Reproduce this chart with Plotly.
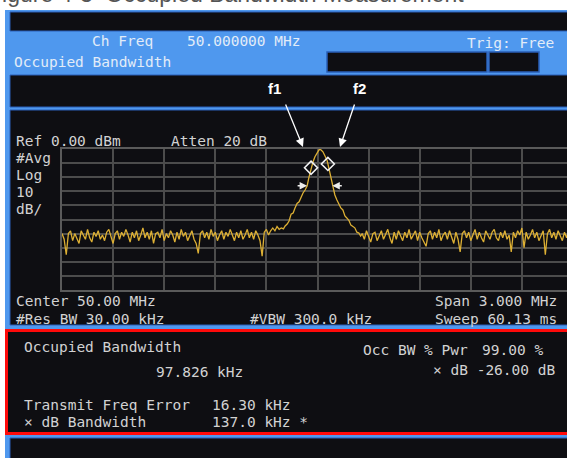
import numpy as np
import plotly.graph_objects as go

W, H = 567, 458

# ---------------- instrument settings / readouts ----------------
center_mhz = 50.0
span_mhz = 3.0
ref_dbm = 0.0
db_per_div = 10
start_mhz = center_mhz - span_mhz / 2

ch_freq = "50.000000 MHz"
occ_bw_khz = "97.826 kHz"
occ_pwr = "99.00 %"
xdb_setting = "-26.00 dB"
freq_error = "16.30 kHz"
xdb_bw = "137.0 kHz *"

# ---------------- trace values (dBm) ----------------
noise_step = 0.0125
noise_left_start = 48.5
noise_left_dbm = [
    -60, -64, -75, -60, -58, -65, -60, -63, -67, -58,
    -61, -64, -57, -63, -66, -59, -62, -58, -64, -61,
    -65, -59, -57, -63, -67, -60, -58, -64, -59, -62,
    -57, -61, -66, -59, -63, -58, -65, -61, -56, -63,
    -59, -64, -58, -67, -60, -59, -63, -57, -65, -60,
    -63, -58, -61, -66, -59, -64, -57, -62, -59, -65,
    -61, -58, -64, -67, -74, -60, -58, -63, -59, -64,
    -57, -62, -59, -65, -61, -58, -64, -59, -62, -57,
    -61, -65, -59, -63, -58, -64, -61, -57, -63, -59,
    -64, -58, -61, -65, -76, -59, -57, -61, -58, -56,
    -58, -55, -57, -56,
]
skirt_mhz = [
    49.800, 49.810, 49.822, 49.833, 49.845, 49.857, 49.868, 49.880, 49.892, 49.904,
    49.915, 49.927, 49.939, 49.950, 49.962, 49.974, 49.985, 49.997, 50.009, 50.015,
    50.020, 50.032, 50.044, 50.056, 50.061, 50.067, 50.079, 50.090, 50.102, 50.114,
    50.126, 50.137, 50.149, 50.161, 50.172, 50.184, 50.196, 50.208, 50.219, 50.231,
    50.243, 50.253,
]
skirt_dbm = [
    -56.7, -54.6, -53.2, -51.1, -46.2, -45.4, -41.8, -38.6, -37.4, -34.0,
    -31.2, -29.1, -26.2, -20.0, -13.3, -9.0, -5.5, -2.5, -0.6, -0.3,
    -0.5, -2.0, -4.5, -8.0, -10.6, -14.2, -21.3, -27.7, -32.6, -36.2,
    -39.0, -41.8, -43.2, -47.5, -48.9, -50.6, -54.0, -55.3, -55.9, -59.0,
    -59.6, -61.7,
]
noise_right_start = 50.2625
noise_right_dbm = [
    -60, -64, -58, -62, -66, -60, -59, -65, -62, -58,
    -64, -61, -57, -63, -67, -59, -64, -58, -61, -65,
    -59, -63, -57, -64, -61, -58, -65, -59, -63, -66,
    -69, -60, -58, -64, -59, -63, -57, -65, -61, -59,
    -64, -58, -63, -67, -59, -64, -73, -60, -58, -63,
    -59, -65, -61, -57, -64, -59, -63, -66, -58, -61,
    -64, -59, -57, -63, -65, -59, -63, -58, -64, -61,
    -73, -59, -63, -58, -61, -56, -70, -59, -64, -61,
    -57, -63, -59, -65, -61, -58, -75, -60, -57, -63,
    -59, -64, -58, -61, -65, -59, -63, -57, -61, -60,
]
occ_markers_mhz = [49.962, 50.061]
occ_markers_dbm = [-13.3, -10.6]
xdb_markers_mhz = [49.939, 50.087]
xdb_markers_dbm = [-26.0, -26.0]

left_f = [noise_left_start + i * noise_step for i in range(len(noise_left_dbm))]
right_f = [noise_right_start + i * noise_step for i in range(len(noise_right_dbm))]
freqs = left_f + skirt_mhz + right_f
levels = noise_left_dbm + skirt_dbm + noise_right_dbm

# ---------------- styling helpers ----------------
MONO = "DejaVu Sans Mono"
TXT = "#d2d2d2"
HDR_TXT = "#e2ecf8"
BLACK = "#0e0e12"
BLUE = "#4f98ee"
DKBLUE = "#2a5fb8"


def px(x):
    return x / W


def py(y):
    return 1 - y / H


def rect(x0, y0, x1, y1, fill, lc=None, lw=0):
    return dict(type="rect", xref="paper", yref="paper",
                x0=px(x0), x1=px(x1), y0=py(y1), y1=py(y0),
                fillcolor=fill, line=dict(color=lc or fill, width=lw), layer="below")


def txt(s, x, y, color=TXT, anchor="left", size=14.5, family=MONO):
    return dict(text=s, x=px(x), y=py(y), xref="paper", yref="paper",
                xanchor=anchor, yanchor="middle", showarrow=False,
                font=dict(family=family, size=size, color=color))


shapes = [
    rect(5, 10, 580, 470, BLUE),
    rect(10, 12, 580, 31, BLACK, DKBLUE, 1),
    rect(10, 75, 580, 107, BLACK, DKBLUE, 1),
    rect(10, 110, 580, 325, BLACK, DKBLUE, 1),
    rect(6.5, 330.5, 580, 433.5, BLACK, "#ff0a0a", 3),
    rect(10, 438, 580, 470, BLACK, DKBLUE, 1),
    rect(327, 52, 487, 72, BLACK, DKBLUE, 1.5),
    rect(489, 52, 539, 72, BLACK, DKBLUE, 1.5),
]

annotations = [
    # cut caption at the very top
    dict(text="Figure 4-3  Occupied Bandwidth Measurement", x=px(-14), y=py(9),
         xref="paper", yref="paper", xanchor="left", yanchor="bottom", showarrow=False,
         font=dict(family="Liberation Sans", size=23, color="#555555")),
    # header
    txt("Ch Freq", 90, 41, HDR_TXT),
    txt(ch_freq, 185, 41, HDR_TXT),
    txt("Trig: Free", 556, 43, HDR_TXT, anchor="right"),
    txt("Occupied Bandwidth", 12, 62, HDR_TXT),
    # f1 / f2 labels
    txt("<b>f1</b>", 274, 88, "#ffffff", anchor="center", size=15,
        family="Liberation Sans Narrow, Liberation Sans, Arial"),
    txt("<b>f2</b>", 359, 88, "#ffffff", anchor="center", size=15,
        family="Liberation Sans Narrow, Liberation Sans, Arial"),
    # main screen
    txt("Ref 0.00 dBm", 14, 141),
    txt("Atten 20 dB", 169, 141),
    txt("#Avg", 14, 158),
    txt("Log", 14, 175),
    txt("10", 14, 192),
    txt("dB/", 14, 209),
    txt("Center 50.00 MHz", 14, 301),
    txt("#Res BW 30.00 kHz", 14, 319),
    txt("#VBW 300.0 kHz", 248, 319),
    txt("Span 3.000 MHz", 559, 301, anchor="right"),
    txt("Sweep 60.13 ms", 559, 319, anchor="right"),
    # results box
    txt("Occupied Bandwidth", 22, 347),
    txt(occ_bw_khz, 154, 372),
    txt("Occ BW % Pwr", 361, 350),
    txt(occ_pwr, 545, 350, anchor="right"),
    txt("× dB " + xdb_setting, 557, 370, anchor="right"),
    txt("Transmit Freq Error", 22, 405),
    txt(freq_error, 210, 405),
    txt("× dB Bandwidth", 22, 422),
    txt(xdb_bw, 210, 422),
]

# f1/f2 pointer arrows
for tipx, axo in [(303, -18), (340, 15)]:
    annotations.append(dict(text="", x=px(tipx), y=py(147), xref="paper", yref="paper",
                            showarrow=True, ax=axo, ay=-44, arrowhead=2, arrowsize=1.3,
                            arrowwidth=1.3, arrowcolor="#ffffff"))

# x dB markers (arrows pointing at the trace)
for f, d, axo in zip(xdb_markers_mhz, xdb_markers_dbm, [-11, 11]):
    annotations.append(dict(text="", x=f, y=d, xref="x", yref="y", showarrow=True,
                            ax=axo, ay=0, arrowhead=2, arrowsize=1, arrowwidth=1.5,
                            arrowcolor="#ececec", standoff=0))

px_per_div = 51.1
x_end = start_mhz + (W - 62) / px_per_div * (span_mhz / 10)

fig = go.Figure()
fig.add_trace(go.Scatter(x=freqs, y=levels, mode="lines",
                         line=dict(color="#ddb034", width=1.3), hoverinfo="skip"))
fig.add_trace(go.Scatter(x=occ_markers_mhz, y=occ_markers_dbm, mode="markers",
                         marker=dict(symbol="diamond-open", size=10, color="#f2f2f2",
                                     line=dict(width=1.6, color="#f2f2f2")),
                         hoverinfo="skip"))

GRID = "#4c4c4c"
fig.update_layout(
    width=W, height=H, margin=dict(l=0, r=0, t=0, b=0),
    paper_bgcolor="#ffffff", plot_bgcolor="rgba(0,0,0,0)",
    showlegend=False, shapes=shapes, annotations=annotations,
    xaxis=dict(domain=[62 / W, 1], range=[start_mhz, x_end], tick0=start_mhz,
               dtick=span_mhz / 10, showgrid=True, gridcolor=GRID, gridwidth=1.5,
               showticklabels=False, ticks="", zeroline=False,
               showline=True, linecolor="#5a5a5a", linewidth=1.5, mirror=True),
    yaxis=dict(domain=[(H - 290) / H, (H - 149) / H],
               range=[ref_dbm - 10 * db_per_div, ref_dbm], dtick=db_per_div,
               showgrid=True, gridcolor=GRID, gridwidth=1.5, showticklabels=False,
               ticks="", zeroline=False, showline=True, linecolor="#5a5a5a",
               linewidth=1.5, mirror=False),
)

fig.write_html("out.html", config={"displayModeBar": False},
               post_script="document.body.style.margin='0';document.body.style.overflow='hidden';")
